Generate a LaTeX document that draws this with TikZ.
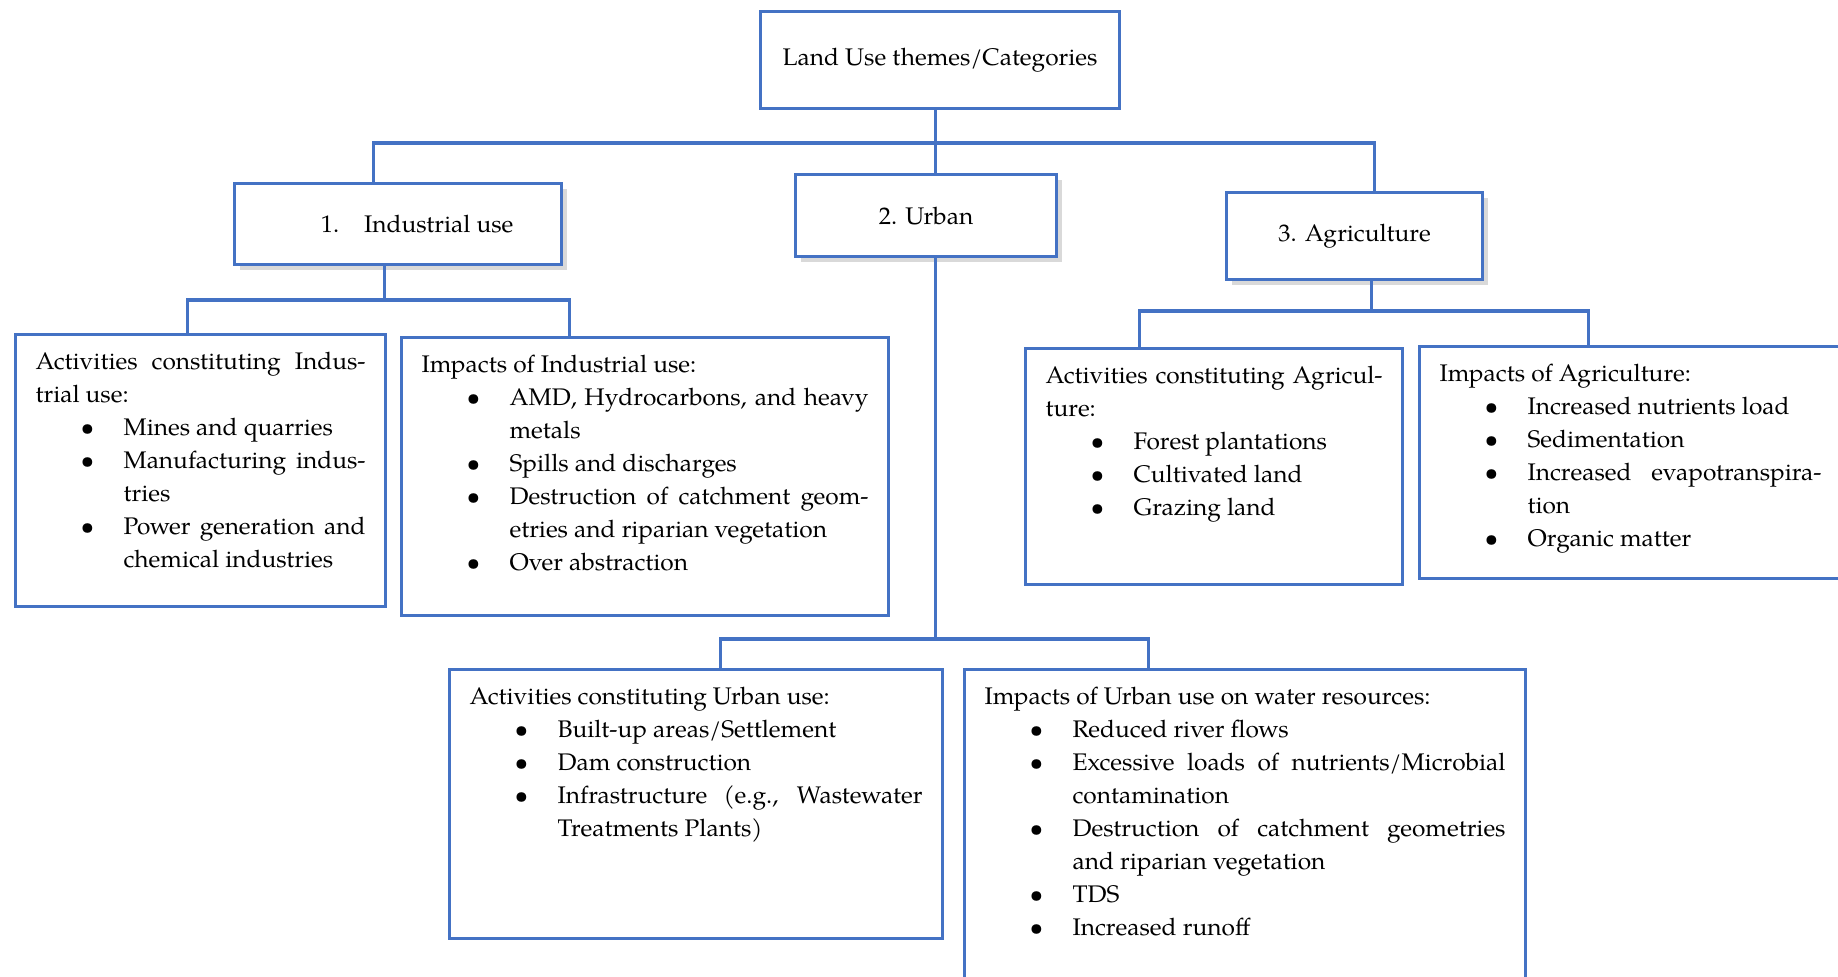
\documentclass[tikz,border=0pt]{standalone}
\usepackage{fontspec}
\setmainfont[FakeStretch=1.02]{TeX Gyre Pagella}
\usetikzlibrary{shadows}
\definecolor{lublue}{RGB}{68,114,196}

\newcommand{\jl}[2][\linewidth]{\makebox[#1][s]{#2}}
\newenvironment{blist}{\begin{list}{\textbullet}{%
  \setlength{\leftmargin}{44pt}\setlength{\labelwidth}{21.5pt}%
  \setlength{\labelsep}{0pt}\setlength{\itemsep}{0pt}%
  \setlength{\parsep}{0pt}\setlength{\topsep}{0pt}\setlength{\partopsep}{0pt}%
  \renewcommand{\makelabel}[1]{##1\hfil}}}{\end{list}}

\tikzset{
  link/.style={draw=lublue, line width=1.6pt},
  catbox/.style={draw=lublue, line width=1.6pt, fill=white, inner sep=0pt, anchor=north west,
    drop shadow={opacity=0.3, shadow xshift=2.5pt, shadow yshift=-2.5pt}},
  listbox/.style={draw=lublue, line width=1.6pt, fill=white, anchor=north west,
    inner xsep=10pt, inner ysep=0pt, align=justify, text height=17.5pt},
}

\begin{document}
\begin{tikzpicture}[x=0.5pt,y=-0.5pt,font=\fontsize{12}{16.5}\selectfont]
  \clip (0,0) rectangle (1838,976);

  % themes
  \node[draw=lublue, line width=1.6pt, inner sep=0pt, anchor=north west,
    minimum width=179.5pt, minimum height=48.5pt] (root) at (759,10) {Land Use themes/Categories};
  \node[catbox, minimum width=163.5pt, minimum height=40.5pt] (ind) at (233,182)
    {\hspace*{19pt}1.\hspace{12.5pt}Industrial use};
  \node[catbox, minimum width=130.5pt, minimum height=41pt] (urb) at (794,173) {2. Urban};
  \node[catbox, minimum width=128pt, minimum height=43.5pt] (agr) at (1225,191) {3. Agriculture};

  % industrial
  \node[listbox, text width=165pt, text depth=118.5pt] (indact) at (14,333) {%
    \jl[\hsize]{Activities constituting Indus-}\\trial use:
    \begin{blist}
      \item Mines and quarries
      \item \jl{Manufacturing indus-}\\tries
      \item \jl{Power generation and}\\chemical industries
    \end{blist}};
  \node[listbox, text width=223.5pt, text depth=121.5pt] (indimp) at (400,336) {%
    Impacts of Industrial use:
    \begin{blist}
      \item \jl{AMD, Hydrocarbons, and heavy}\\metals
      \item Spills and discharges
      \item \jl{Destruction of catchment geom-}\\etries and riparian vegetation
      \item Over abstraction
    \end{blist}};

  % agriculture
  \node[listbox, text width=168.5pt, text depth=100.5pt] (agract) at (1024,347) {%
    \jl[\hsize]{Activities constituting Agricul-}\\ture:
    \begin{blist}
      \item Forest plantations
      \item Cultivated land
      \item Grazing land
    \end{blist}};
  \node[listbox, text width=191pt, text depth=98.5pt] (agrimp) at (1418,345) {%
    Impacts of Agriculture:
    \begin{blist}
      \item Increased nutrients load
      \item Sedimentation
      \item \jl{Increased evapotranspira-}\\tion
      \item Organic matter
    \end{blist}};

  % urban
  \node[listbox, text width=226.5pt, text depth=117pt] (urbact) at (448,668) {%
    Activities constituting Urban use:
    \begin{blist}
      \item Built-up areas/Settlement
      \item Dam construction
      \item \jl{Infrastructure (e.g., Wastewater}\\Treatments Plants)
    \end{blist}};
  \node[listbox, text width=260.5pt, text depth=200pt] (urbimp) at (963,668) {%
    Impacts of Urban use on water resources:
    \begin{blist}
      \item Reduced river flows
      \item \jl{Excessive loads of nutrients/Microbial}\\contamination
      \item \jl{Destruction of catchment geometries}\\and riparian vegetation
      \item TDS
      \item Increased runoff
    \end{blist}};

  % connectors
  \coordinate (bar0) at (0,143);
  \coordinate (bar1) at (0,300);
  \coordinate (bar2) at (0,311);
  \coordinate (bar3) at (0,639);
  \coordinate (indin) at ([xshift=-12.25pt]ind.north);
  \coordinate (agrin) at ([xshift=9.75pt]agr.north);
  \coordinate (urbin) at ([xshift=4.75pt]urb.north);
  \coordinate (urbout) at ([xshift=4.75pt]urb.south);
  \coordinate (indout) at ([xshift=-6.75pt]ind.south);
  \coordinate (agrout) at ([xshift=8.5pt]agr.south);
  \coordinate (indactin) at ([xshift=-6.5pt]indact.north);
  \coordinate (indimpin) at ([xshift=-37.75pt]indimp.north);
  \coordinate (agractin) at ([xshift=-37.25pt]agract.north);
  \coordinate (agrimpin) at ([xshift=-21pt]agrimp.north);
  \coordinate (urbactin) at ([xshift=12pt]urbact.north);
  \coordinate (urbimpin) at ([xshift=-48.25pt]urbimp.north);

  \draw[link] (urbin) -- (urbin |- root.south);
  \draw[link] (indin) -- (indin |- bar0) -- (agrin |- bar0) -- (agrin);

  \draw[link] (indout) -- (indout |- bar1);
  \draw[link] (indactin) -- (indactin |- bar1) -- (indimpin |- bar1) -- (indimpin);

  \draw[link] (agrout) -- (agrout |- bar2);
  \draw[link] (agractin) -- (agractin |- bar2) -- (agrimpin |- bar2) -- (agrimpin);

  \draw[link] (urbout) -- (urbout |- bar3);
  \draw[link] (urbactin) -- (urbactin |- bar3) -- (urbimpin |- bar3) -- (urbimpin);
\end{tikzpicture}
\end{document}
